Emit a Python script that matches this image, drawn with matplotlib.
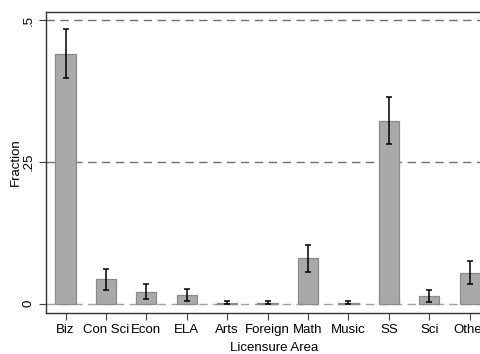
import numpy as np
import matplotlib.pyplot as plt

plt.rcParams['font.family'] = ['Liberation Sans', 'DejaVu Sans']

# Share of candidates by licensure area, with 95% intervals
areas = ['Biz', 'Con Sci', 'Econ', 'ELA', 'Arts', 'Foreign', 'Math', 'Music', 'SS', 'Sci', 'Other']
frac = [0.441, 0.043, 0.021, 0.015, 0.002, 0.002, 0.080, 0.002, 0.323, 0.013, 0.054]
ci_lo = [0.398, 0.025, 0.008, 0.004, 0.000, 0.000, 0.056, 0.000, 0.282, 0.003, 0.035]
ci_hi = [0.485, 0.061, 0.035, 0.026, 0.004, 0.004, 0.104, 0.004, 0.364, 0.024, 0.075]

x = np.arange(1, len(areas) + 1)
frac = np.array(frac)
err = [frac - np.array(ci_lo), np.array(ci_hi) - frac]

fig = plt.figure(figsize=(4.81, 3.54), dpi=100)
ax = fig.add_axes([0.0956, 0.1158, 0.948, 0.850])

for yv, c in [(0, '#a0a0a0'), (0.25, '#707070'), (0.5, '#707070')]:
    ax.axhline(yv, color=c, lw=1.0, ls=(0, (6, 4)), zorder=1)

ax.bar(x, frac, width=0.5, color='#a9a9a9', edgecolor='#8a8a8a', lw=0.9, zorder=2)
ax.errorbar(x, frac, yerr=err, fmt='none', ecolor='black', elinewidth=1.1,
            capsize=2.3, capthick=1.1, zorder=3)

ax.set_xlim(0.517, 11.80)
ax.set_ylim(-0.0164, 0.5145)
ax.set_xticks(x)
ax.set_xticklabels(areas, fontsize=9.5)
ax.set_yticks([0, 0.25, 0.5])
ax.set_yticklabels(['0', '.25', '.5'], fontsize=9.5, rotation=90, va='center')
ax.tick_params(direction='out', length=5, width=0.8, color='#444444', pad=3)
ax.set_xlabel('Licensure Area', fontsize=9.5, labelpad=4)
ax.set_ylabel('Fraction', fontsize=9.5, labelpad=1)
for s in ax.spines.values():
    s.set_linewidth(1.0)
    s.set_color('#333333')

fig.savefig('out.png', dpi=100)
